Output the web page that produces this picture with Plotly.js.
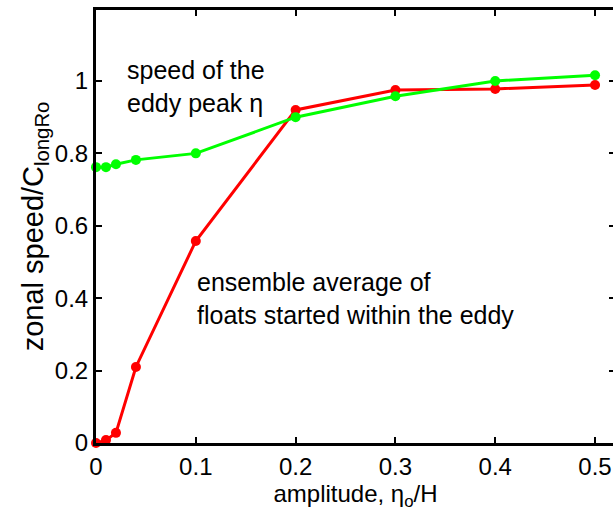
<!DOCTYPE html>
<html>
<head>
<meta charset="utf-8">
<script src="https://cdn.plot.ly/plotly-3.0.1.min.js"></script>
<style>
html, body { margin: 0; padding: 0; overflow: hidden; background: #fff; }
#chart { width: 620px; height: 516px; }
</style>
</head>
<body>
<div id="chart"></div>
<script>
// Data
const amplitude = [0, 0.01, 0.02, 0.04, 0.1, 0.2, 0.3, 0.4, 0.5];
const floatSpeed = [0, 0.008, 0.028, 0.21, 0.558, 0.92, 0.975, 0.978, 0.989];
const eddyPeakSpeed = [0.762, 0.762, 0.77, 0.782, 0.8, 0.9, 0.958, 1.0, 1.016];
const xTicks = [0, 0.1, 0.2, 0.3, 0.4, 0.5];
const xTickLabels = ['0', '0.1', '0.2', '0.3', '0.4', '0.5'];
const yTicks = [0, 0.2, 0.4, 0.6, 0.8, 1];
const yTickLabels = ['0', '0.2', '0.4', '0.6', '0.8', '1'];

const FONT = 'Liberation Sans, Arial, Helvetica, sans-serif';

const traces = [
  {
    x: amplitude, y: floatSpeed, type: 'scatter', mode: 'lines+markers',
    line: {color: '#ff0000', width: 3},
    marker: {color: '#ff0000', size: 10},
    cliponaxis: false, showlegend: false
  },
  {
    x: amplitude, y: eddyPeakSpeed, type: 'scatter', mode: 'lines+markers',
    line: {color: '#00ff00', width: 3},
    marker: {color: '#00ff00', size: 10},
    cliponaxis: false, showlegend: false
  }
];

const axisCommon = {
  showline: true, linecolor: '#000', linewidth: 3, mirror: 'ticks',
  ticks: 'inside', ticklen: 6, tickwidth: 2, tickcolor: '#000',
  showgrid: false, zeroline: false,
  tickfont: {family: FONT, size: 24, color: '#000'}
};

const layout = {
  width: 620, height: 516,
  margin: {l: 96, r: 5, t: 10, b: 73},
  paper_bgcolor: '#fff', plot_bgcolor: '#fff',
  font: {family: FONT, color: '#000'},
  xaxis: Object.assign({}, axisCommon, {
    range: [0, 0.52], tickmode: 'array', tickvals: xTicks, ticktext: xTickLabels,
    title: {text: 'amplitude, η<sub>o</sub>/H', font: {family: FONT, size: 24, color: '#000'}, standoff: 7}
  }),
  yaxis: Object.assign({}, axisCommon, {
    range: [0, 1.196], tickmode: 'array', tickvals: yTicks, ticktext: yTickLabels,
    title: {text: 'zonal speed/C<sub>longRo</sub>', font: {family: FONT, size: 29, color: '#000'}, standoff: 3}
  }),
  annotations: [
    {
      x: 0.029, y: 0.985, xref: 'x', yref: 'y', xanchor: 'left', yanchor: 'middle',
      text: 'speed of the<br>eddy peak η', showarrow: false, align: 'left',
      font: {family: FONT, size: 25, color: '#000'}
    },
    {
      x: 0.099, y: 0.40, xref: 'x', yref: 'y', xanchor: 'left', yanchor: 'middle',
      text: 'ensemble average of<br>floats started within the eddy', showarrow: false, align: 'left',
      font: {family: FONT, size: 25, color: '#000'}
    }
  ]
};

Plotly.newPlot('chart', traces, layout, {displayModeBar: false, staticPlot: true});
</script>
</body>
</html>
